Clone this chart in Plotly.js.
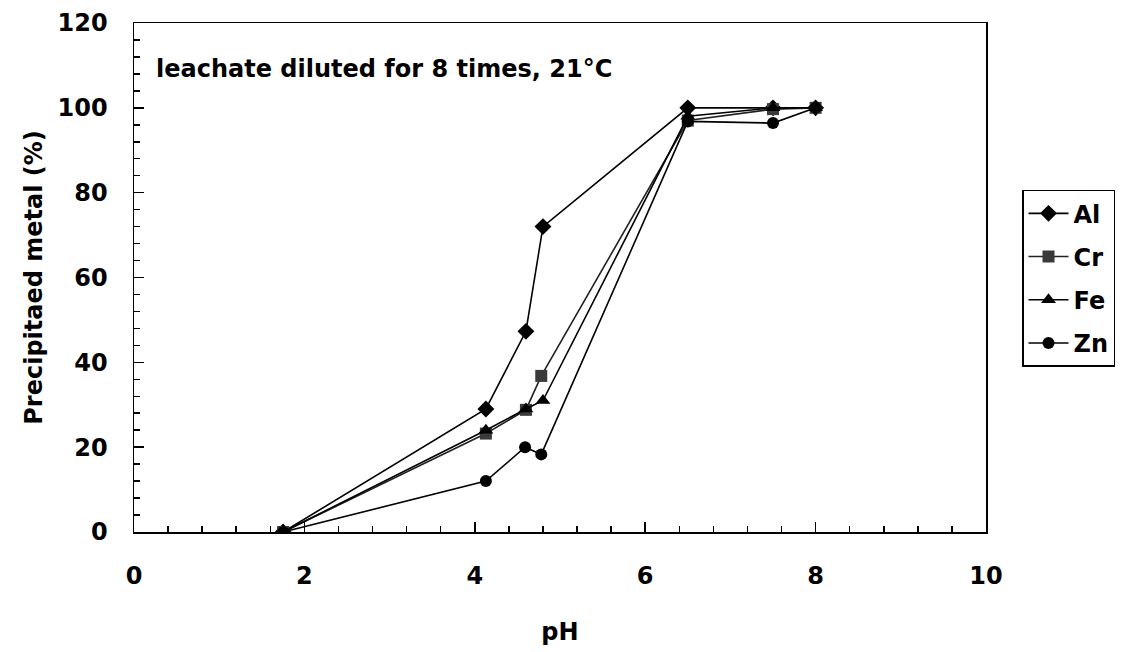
<!DOCTYPE html>
<html>
<head>
<meta charset="utf-8">
<script src="https://cdn.plot.ly/plotly-3.0.1.min.js"></script>
<style>html,body{margin:0;padding:0;background:#fff;}#chart{width:1121px;height:652px;}</style>
</head>
<body>
<div id="chart"></div>
<script>
const pH_Al = [1.75, 4.13, 4.60, 4.80, 6.50, 7.50, 8.00];
const Al    = [0, 29, 47.3, 72, 100, 100, 100];
const pH_Cr = [1.75, 4.13, 4.60, 4.78, 6.50, 7.50, 8.00];
const Cr    = [0, 23.2, 28.8, 36.8, 97, 99.7, 100];
const pH_Fe = [1.75, 4.13, 4.60, 4.80, 6.50, 7.50, 8.00];
const Fe    = [0, 24, 29, 31, 98, 100, 100];
const pH_Zn = [1.75, 4.13, 4.59, 4.78, 6.50, 7.50, 8.00];
const Zn    = [0, 12, 20, 18.3, 96.8, 96.4, 100];

const F = 'DejaVu Sans, Liberation Sans, Arial, sans-serif';
const FS = 24;
function tr(name, x, y, symbol, color, lineColor, size) {
  return {x: x, y: y, name: name, legendgroup: name, type: 'scatter', mode: 'lines+markers',
    line: {color: lineColor, width: 1.6},
    marker: {symbol: symbol, color: color, size: size}};
}
const data = [
  tr('Al', pH_Al, Al, 'diamond', '#000', '#000', 13),
  tr('Cr', pH_Cr, Cr, 'square', '#3a3a3a', '#222', 12),
  tr('Fe', pH_Fe, Fe, 'triangle-up', '#000', '#000', 13),
  tr('Zn', pH_Zn, Zn, 'circle', '#000', '#000', 12)
];
const layout = {
  width: 1121, height: 652,
  margin: {l: 134, r: 135, t: 23, b: 120},
  paper_bgcolor: '#fff', plot_bgcolor: '#fff',
  font: {family: F, size: FS, color: '#000', weight: 'bold'},
  showlegend: true,
  legend: {xref: 'container', yref: 'container', x: 0.9117, y: 0.709, xanchor: 'left', yanchor: 'top',
    bordercolor: '#000', borderwidth: 1.5, bgcolor: '#fff',
    font: {family: F, size: FS, weight: 'bold'}, tracegroupgap: 9, itemwidth: 40},
  xaxis: {range: [0, 10], dtick: 2, tick0: 0, showgrid: false, zeroline: false,
    showline: true, linecolor: '#000', linewidth: 1.5, mirror: true,
    ticks: 'inside', ticklen: 10, tickcolor: '#000', tickwidth: 1.5,
    minor: {dtick: 0.4, ticks: 'inside', ticklen: 6, tickcolor: '#000', showgrid: false},
    tickfont: {family: F, size: FS, weight: 'bold'}, ticklabelstandoff: 22,
    title: {text: 'pH', font: {family: F, size: FS, weight: 'bold'}, standoff: 34}},
  yaxis: {range: [0, 120], dtick: 20, tick0: 0, showgrid: false, zeroline: false,
    showline: true, linecolor: '#000', linewidth: 1.5, mirror: true,
    ticks: 'inside', ticklen: 10, tickcolor: '#000', tickwidth: 1.5,
    minor: {dtick: 4, ticks: 'inside', ticklen: 6, tickcolor: '#000', showgrid: false},
    tickfont: {family: F, size: FS, weight: 'bold'}, ticklabelstandoff: 20,
    title: {text: 'Precipitaed metal (%)', font: {family: F, size: FS, weight: 'bold'}, standoff: 8}},
  annotations: [{text: 'leachate diluted for 8 times, 21°C', xref: 'paper', yref: 'paper',
    x: 0.023, y: 0.91, xanchor: 'left', yanchor: 'middle', showarrow: false,
    font: {family: F, size: FS, weight: 'bold'}}]
};
Plotly.newPlot('chart', data, layout, {displayModeBar: false, staticPlot: true});
</script>
</body>
</html>
